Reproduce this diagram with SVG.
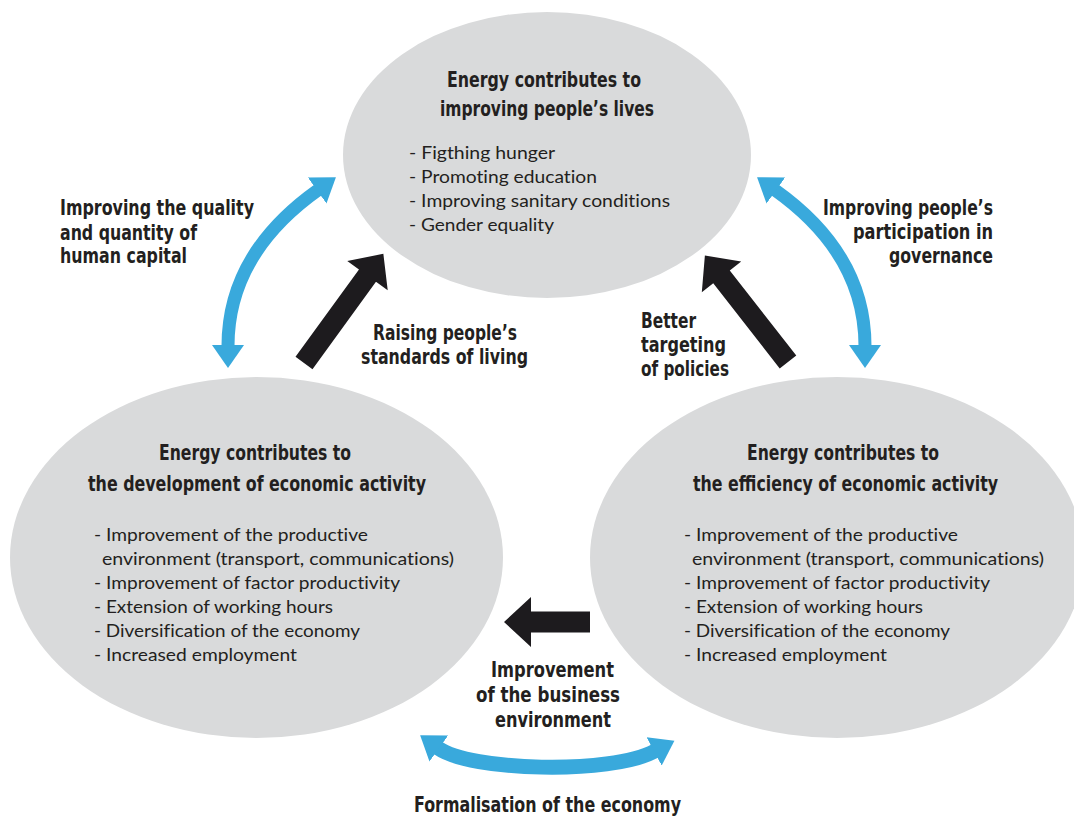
<svg xmlns="http://www.w3.org/2000/svg" width="1074" height="817" viewBox="0 0 1074 817">
<style>
.ell{fill:#d9dadb}
.t{font-family:"Liberation Sans Narrow","DejaVu Sans Condensed","Liberation Sans",sans-serif;font-weight:bold;font-size:21px;fill:#231f20}
.l{font-family:Lato,"Open Sans","Liberation Sans",sans-serif;font-size:17px;fill:#231f20;font-variant-ligatures:none}
.blue{fill:none;stroke:#39a9dc;stroke-width:13}
.blk{fill:#1d1b1e}
</style>
<defs>
<marker id="bh" markerUnits="userSpaceOnUse" viewBox="0 -17 24 34" refX="1" refY="0" markerWidth="24" markerHeight="34" orient="auto-start-reverse">
<path d="M0,-16 L23,0 L0,16 Z" fill="#39a9dc"/>
</marker>
<path id="diag" d="M0,-10.5 L108,-10.5 L108,-25 L135,0 L108,25 L108,10.5 L0,10.5 Z"/>
</defs>

<g id="node-lives">
<ellipse class="ell" cx="547" cy="155" rx="204" ry="143"/>
<text class="t" x="447" y="87" textLength="194" lengthAdjust="spacingAndGlyphs">Energy contributes to</text>
<text class="t" x="440" y="116" textLength="214" lengthAdjust="spacingAndGlyphs">improving people’s lives</text>
<text class="l" x="409" y="159" textLength="146" lengthAdjust="spacingAndGlyphs">- Figthing hunger</text>
<text class="l" x="409" y="183" textLength="188" lengthAdjust="spacingAndGlyphs">- Promoting education</text>
<text class="l" x="409" y="207" textLength="261" lengthAdjust="spacingAndGlyphs">- Improving sanitary conditions</text>
<text class="l" x="409" y="231" textLength="145" lengthAdjust="spacingAndGlyphs">- Gender equality</text>
</g>

<g id="node-development">
<ellipse class="ell" cx="256.5" cy="557.5" rx="246.5" ry="180.5"/>
<text class="t" x="159" y="460" textLength="192" lengthAdjust="spacingAndGlyphs">Energy contributes to</text>
<text class="t" x="88" y="491" textLength="338" lengthAdjust="spacingAndGlyphs">the development of economic activity</text>
<text class="l" x="94" y="541" textLength="274" lengthAdjust="spacingAndGlyphs">- Improvement of the productive</text>
<text class="l" x="102" y="565" textLength="352" lengthAdjust="spacingAndGlyphs">environment (transport, communications)</text>
<text class="l" x="94" y="589" textLength="306" lengthAdjust="spacingAndGlyphs">- Improvement of factor productivity</text>
<text class="l" x="94" y="613" textLength="239" lengthAdjust="spacingAndGlyphs">- Extension of working hours</text>
<text class="l" x="94" y="637" textLength="266" lengthAdjust="spacingAndGlyphs">- Diversification of the economy</text>
<text class="l" x="94" y="661" textLength="203" lengthAdjust="spacingAndGlyphs">- Increased employment</text>
</g>

<g id="node-efficiency">
<ellipse class="ell" cx="837" cy="557.5" rx="247" ry="180.5"/>
<text class="t" x="747" y="460" textLength="192" lengthAdjust="spacingAndGlyphs">Energy contributes to</text>
<text class="t" x="693" y="491" textLength="305" lengthAdjust="spacingAndGlyphs">the efficiency of economic activity</text>
<text class="l" x="684" y="541" textLength="274" lengthAdjust="spacingAndGlyphs">- Improvement of the productive</text>
<text class="l" x="692" y="565" textLength="352" lengthAdjust="spacingAndGlyphs">environment (transport, communications)</text>
<text class="l" x="684" y="589" textLength="306" lengthAdjust="spacingAndGlyphs">- Improvement of factor productivity</text>
<text class="l" x="684" y="613" textLength="239" lengthAdjust="spacingAndGlyphs">- Extension of working hours</text>
<text class="l" x="684" y="637" textLength="266" lengthAdjust="spacingAndGlyphs">- Diversification of the economy</text>
<text class="l" x="684" y="661" textLength="203" lengthAdjust="spacingAndGlyphs">- Increased employment</text>
</g>

<g id="connectors">
<path class="blue" d="M228,346 Q228,254 318,190" marker-start="url(#bh)" marker-end="url(#bh)"/>
<path class="blue" d="M865,346 Q865,254 775,190" marker-start="url(#bh)" marker-end="url(#bh)"/>
<path class="blue" style="stroke-width:15" d="M438,748 C470,771 610,775 655,751" marker-start="url(#bh)" marker-end="url(#bh)"/>
<use href="#diag" class="blk" transform="translate(304,363) rotate(-54)"/>
<use href="#diag" class="blk" transform="translate(788,362) rotate(-128)"/>
<path class="blk" d="M590,611.5 L531,611.5 L531,597 L504,622 L531,647 L531,632.5 L590,632.5 Z"/>
</g>

<g id="labels">
<text class="t" x="60" y="215" textLength="194" lengthAdjust="spacingAndGlyphs">Improving the quality</text>
<text class="t" x="60" y="240" textLength="137" lengthAdjust="spacingAndGlyphs">and quantity of</text>
<text class="t" x="60" y="263" textLength="127" lengthAdjust="spacingAndGlyphs">human capital</text>
<text class="t" x="823" y="215" textLength="170" lengthAdjust="spacingAndGlyphs">Improving people’s</text>
<text class="t" x="853" y="239" textLength="140" lengthAdjust="spacingAndGlyphs">participation in</text>
<text class="t" x="889" y="263" textLength="104" lengthAdjust="spacingAndGlyphs">governance</text>
<text class="t" x="373" y="340" textLength="144" lengthAdjust="spacingAndGlyphs">Raising people’s</text>
<text class="t" x="361" y="364" textLength="167" lengthAdjust="spacingAndGlyphs">standards of living</text>
<text class="t" x="641" y="328" textLength="55" lengthAdjust="spacingAndGlyphs">Better</text>
<text class="t" x="641" y="352" textLength="85" lengthAdjust="spacingAndGlyphs">targeting</text>
<text class="t" x="641" y="376" textLength="88" lengthAdjust="spacingAndGlyphs">of policies</text>
<text class="t" x="491" y="677" textLength="123" lengthAdjust="spacingAndGlyphs">Improvement</text>
<text class="t" x="476" y="702" textLength="144" lengthAdjust="spacingAndGlyphs">of the business</text>
<text class="t" x="495" y="727" textLength="116" lengthAdjust="spacingAndGlyphs">environment</text>
<text class="t" x="414" y="812" textLength="267" lengthAdjust="spacingAndGlyphs">Formalisation of the economy</text>
</g>
</svg>
